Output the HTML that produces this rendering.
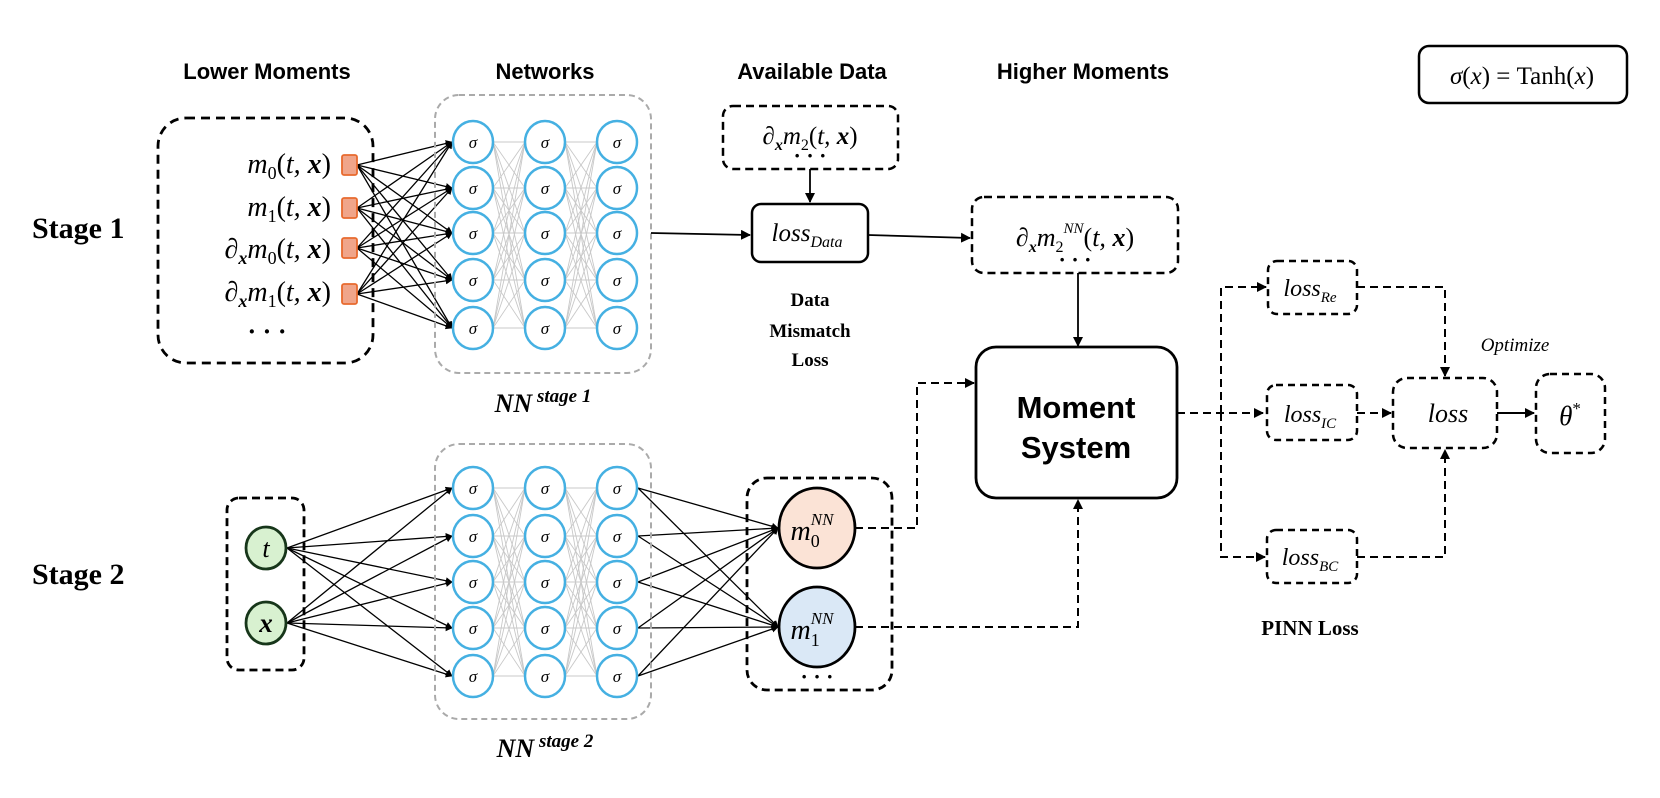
<!DOCTYPE html>
<html><head><meta charset="utf-8"><style>
html,body{margin:0;padding:0;background:#fff;}
svg{display:block;}
.t{font-family:"Liberation Serif",serif;}
.h{font-family:"Liberation Sans",sans-serif;font-weight:bold;}
</style></head><body>
<svg id="s" width="1660" height="798" viewBox="0 0 1660 798" xmlns="http://www.w3.org/2000/svg">
<defs>
<marker id="a" viewBox="0 0 10 10" refX="9" refY="5" markerWidth="7" markerHeight="7" markerUnits="userSpaceOnUse" orient="auto"><path d="M0,0 L10,5 L0,10 z" fill="#000"/></marker>
<marker id="b" viewBox="0 0 10 10" refX="9" refY="5" markerWidth="10" markerHeight="10" markerUnits="userSpaceOnUse" orient="auto"><path d="M0,0 L10,5 L0,10 z" fill="#000"/></marker>
</defs>
<g id="g"></g>
<g class="h" font-size="22" text-anchor="middle">
<text x="267" y="79">Lower Moments</text>
<text x="545" y="79">Networks</text>
<text x="812" y="79">Available Data</text>
<text x="1083" y="79">Higher Moments</text>
</g>
<rect x="1419" y="46" width="208" height="57" rx="10" fill="none" stroke="#000" stroke-width="2.5"/>
<text class="t" x="1522" y="84" font-size="25" text-anchor="middle"><tspan font-style="italic">σ</tspan>(<tspan font-style="italic">x</tspan>) = Tanh(<tspan font-style="italic">x</tspan>)</text>
<text class="t" x="32" y="238" font-size="30" font-weight="bold">Stage 1</text>
<text class="t" x="32" y="584" font-size="30" font-weight="bold">Stage 2</text>
<rect x="158" y="118" width="215" height="245" rx="28" fill="none" stroke="#000" stroke-width="2.8" stroke-dasharray="9 6"/>
<g class="t" font-size="28" text-anchor="end" font-style="italic">
<text x="331" y="173">m<tspan font-size="18" dy="6" font-style="normal">0</tspan><tspan dy="-6" font-style="normal">(</tspan>t, <tspan font-weight="bold">x</tspan><tspan font-style="normal">)</tspan></text>
<text x="331" y="216">m<tspan font-size="18" dy="6" font-style="normal">1</tspan><tspan dy="-6" font-style="normal">(</tspan>t, <tspan font-weight="bold">x</tspan><tspan font-style="normal">)</tspan></text>
<text x="331" y="258">∂<tspan font-size="18" dy="6" font-weight="bold">x</tspan><tspan dy="-6">m</tspan><tspan font-size="18" dy="6" font-style="normal">0</tspan><tspan dy="-6" font-style="normal">(</tspan>t, <tspan font-weight="bold">x</tspan><tspan font-style="normal">)</tspan></text>
<text x="331" y="301">∂<tspan font-size="18" dy="6" font-weight="bold">x</tspan><tspan dy="-6">m</tspan><tspan font-size="18" dy="6" font-style="normal">1</tspan><tspan dy="-6" font-style="normal">(</tspan>t, <tspan font-weight="bold">x</tspan><tspan font-style="normal">)</tspan></text>
</g>
<text class="t" x="267" y="340" font-size="26" text-anchor="middle" font-weight="bold">· · ·</text>
<rect x="435" y="95" width="216" height="278" rx="24" fill="none" stroke="#aaa" stroke-width="2" stroke-dasharray="6 4"/>
<rect x="435" y="444" width="216" height="275" rx="24" fill="none" stroke="#aaa" stroke-width="2" stroke-dasharray="6 4"/>
<text class="t" x="543" y="412" font-size="26" font-weight="bold" font-style="italic" text-anchor="middle">NN<tspan font-size="19" dy="-10"> stage 1</tspan></text>
<text class="t" x="545" y="757" font-size="26" font-weight="bold" font-style="italic" text-anchor="middle">NN<tspan font-size="19" dy="-10"> stage 2</tspan></text>
<rect x="723" y="106" width="175" height="63" rx="10" fill="none" stroke="#000" stroke-width="2.5" stroke-dasharray="8 5"/>
<text class="t" x="810" y="144" font-size="25" font-style="italic" text-anchor="middle">∂<tspan font-size="16" dy="6" font-weight="bold">x</tspan><tspan dy="-6">m</tspan><tspan font-size="16" dy="6" font-style="normal">2</tspan><tspan dy="-6" font-style="normal">(</tspan>t, <tspan font-weight="bold">x</tspan><tspan font-style="normal">)</tspan></text>
<text class="t" x="810" y="163" font-size="22" text-anchor="middle" font-weight="bold">· · ·</text>
<line x1="810" y1="169" x2="810" y2="202" stroke="#000" stroke-width="1.8" marker-end="url(#b)"/>
<rect x="752" y="204" width="116" height="58" rx="9" fill="none" stroke="#000" stroke-width="2.5"/>
<text class="t" x="807" y="241" font-size="25" font-style="italic" text-anchor="middle">loss<tspan font-size="16" dy="6">Data</tspan></text>
<g class="t" font-size="19" font-weight="bold" text-anchor="middle">
<text x="810" y="306">Data</text><text x="810" y="337">Mismatch</text><text x="810" y="366">Loss</text>
</g>
<line x1="651" y1="233" x2="750" y2="235" stroke="#000" stroke-width="1.8" marker-end="url(#b)"/>
<line x1="868" y1="235" x2="970" y2="238" stroke="#000" stroke-width="1.8" marker-end="url(#b)"/>
<rect x="972" y="197" width="206" height="76" rx="12" fill="none" stroke="#000" stroke-width="2.5" stroke-dasharray="8 5"/>
<text class="t" x="1075" y="246" font-size="26" font-style="italic" text-anchor="middle">∂<tspan font-size="16" dy="6" font-weight="bold">x</tspan><tspan dy="-6">m</tspan><tspan font-size="16" dy="6" font-style="normal">2</tspan><tspan font-size="15" dy="-19">NN</tspan><tspan dy="13" font-style="normal">(</tspan>t, <tspan font-weight="bold">x</tspan><tspan font-style="normal">)</tspan></text>
<text class="t" x="1075" y="267" font-size="22" text-anchor="middle" font-weight="bold">· · ·</text>
<line x1="1078" y1="273" x2="1078" y2="346" stroke="#000" stroke-width="1.8" marker-end="url(#b)"/>
<rect x="976" y="347" width="201" height="151" rx="20" fill="none" stroke="#000" stroke-width="2.8"/>
<g class="h" font-size="31" text-anchor="middle"><text x="1076" y="418">Moment</text><text x="1076" y="458">System</text></g>
<rect x="227" y="498" width="77" height="172" rx="12" fill="none" stroke="#000" stroke-width="2.8" stroke-dasharray="8 5"/>
<ellipse cx="266" cy="548" rx="20" ry="21" fill="#d8f1d0" stroke="#17361a" stroke-width="2.8"/>
<ellipse cx="266" cy="623" rx="20" ry="21" fill="#d8f1d0" stroke="#17361a" stroke-width="2.8"/>
<text class="t" x="266" y="557" font-size="26" font-style="italic" text-anchor="middle">t</text>
<text class="t" x="266" y="632" font-size="27" font-style="italic" font-weight="bold" text-anchor="middle">x</text>
<rect x="747" y="478" width="145" height="212" rx="20" fill="none" stroke="#000" stroke-width="2.8" stroke-dasharray="8 5"/>
<ellipse cx="817" cy="528" rx="38" ry="40" fill="#fbe3d6" stroke="#000" stroke-width="2.8"/>
<ellipse cx="817" cy="627" rx="38" ry="40" fill="#dae8f6" stroke="#000" stroke-width="2.8"/>
<text class="t" x="812" y="540" font-size="28" font-style="italic" text-anchor="middle">m<tspan font-size="18" dy="7" font-style="normal">0</tspan><tspan font-size="17" dy="-22" dx="-9">NN</tspan></text>
<text class="t" x="812" y="639" font-size="28" font-style="italic" text-anchor="middle">m<tspan font-size="18" dy="7" font-style="normal">1</tspan><tspan font-size="17" dy="-22" dx="-9">NN</tspan></text>
<text class="t" x="817" y="684" font-size="22" text-anchor="middle" font-weight="bold">· · ·</text>
<g fill="none" stroke="#000" stroke-width="2" stroke-dasharray="8 5">
<polyline points="855,528 917,528 917,383 974,383" marker-end="url(#b)"/>
<polyline points="855,627 1078,627 1078,500" marker-end="url(#b)"/>
<line x1="1177" y1="413" x2="1263" y2="413" marker-end="url(#b)"/>
<polyline points="1221,413 1221,287 1266,287" marker-end="url(#b)"/>
<polyline points="1221,413 1221,557 1265,557" marker-end="url(#b)"/>
<polyline points="1357,287 1445,287 1445,376" marker-end="url(#b)"/>
<polyline points="1357,557 1445,557 1445,450" marker-end="url(#b)"/>
<line x1="1357" y1="413" x2="1391" y2="413" marker-end="url(#b)"/>
</g>
<g fill="none" stroke="#000" stroke-width="2.5" stroke-dasharray="7 5">
<rect x="1268" y="261" width="89" height="53" rx="9"/>
<rect x="1267" y="385" width="90" height="55" rx="9"/>
<rect x="1267" y="530" width="90" height="53" rx="9"/>
<rect x="1393" y="378" width="104" height="70" rx="14"/>
<rect x="1536" y="374" width="69" height="79" rx="14"/>
</g>
<g class="t" font-size="24" font-style="italic" text-anchor="middle">
<text x="1310" y="296">loss<tspan font-size="15" dy="6">Re</tspan></text>
<text x="1310" y="422">loss<tspan font-size="15" dy="6">IC</tspan></text>
<text x="1310" y="565">loss<tspan font-size="15" dy="6">BC</tspan></text>
<text x="1448" y="422" font-size="26">loss</text>
<text x="1570" y="425" font-size="27">θ<tspan font-size="17" dy="-11" font-style="normal">*</tspan></text>
<text x="1515" y="351" font-size="19">Optimize</text>
</g>
<line x1="1497" y1="413" x2="1534" y2="413" stroke="#000" stroke-width="2" marker-end="url(#b)"/>
<text class="t" x="1310" y="635" font-size="21" font-weight="bold" text-anchor="middle">PINN Loss</text>
<g id="n"></g>
</svg>
<script>
var NS="http://www.w3.org/2000/svg",g=document.getElementById('g'),n=document.getElementById('n');
function L(p,x1,y1,x2,y2,st,w,m){var l=document.createElementNS(NS,'line');l.setAttribute('x1',x1);l.setAttribute('y1',y1);l.setAttribute('x2',x2);l.setAttribute('y2',y2);l.setAttribute('stroke',st);l.setAttribute('stroke-width',w);if(m)l.setAttribute('marker-end','url(#a)');p.appendChild(l);}
var cols=[473,545,617],R=20;
function net(rows){
 for(var c=0;c<2;c++)for(var i=0;i<5;i++)for(var j=0;j<5;j++)L(g,cols[c]+R,rows[i],cols[c+1]-R,rows[j],'#c8c8c8',0.9);
 for(var c=0;c<3;c++)for(var i=0;i<5;i++){var e=document.createElementNS(NS,'ellipse');e.setAttribute('cx',cols[c]);e.setAttribute('cy',rows[i]);e.setAttribute('rx',R);e.setAttribute('ry',21);e.setAttribute('fill','#fff');e.setAttribute('stroke','#45b0e2');e.setAttribute('stroke-width','2.5');n.appendChild(e);
 var t=document.createElementNS(NS,'text');t.setAttribute('x',cols[c]);t.setAttribute('y',rows[i]+6);t.setAttribute('font-size','17');t.setAttribute('font-style','italic');t.setAttribute('text-anchor','middle');t.setAttribute('font-family','Liberation Serif, serif');t.textContent='σ';n.appendChild(t);}
}
var r1=[142,188,233,280,328],r2=[488,536,582,628,676];
net(r1);net(r2);
var sq=[165,208,248,294];
for(var i=0;i<4;i++)for(var j=0;j<5;j++)L(g,357,sq[i],452,r1[j],'#000',1.3,1);
for(var i=0;i<4;i++){var r=document.createElementNS(NS,'rect');r.setAttribute('x',342);r.setAttribute('y',sq[i]-10);r.setAttribute('width',15);r.setAttribute('height',20);r.setAttribute('rx',2);r.setAttribute('fill','#f0a58a');r.setAttribute('stroke','#e86a2e');r.setAttribute('stroke-width','1.8');n.appendChild(r);}
[548,623].forEach(function(y){for(var j=0;j<5;j++)L(g,287,y,452,r2[j],'#000',1.3,1);});
[528,627].forEach(function(y){for(var j=0;j<5;j++)L(g,638,r2[j],778,y,'#000',1.3,1);});
</script>
</body></html>
